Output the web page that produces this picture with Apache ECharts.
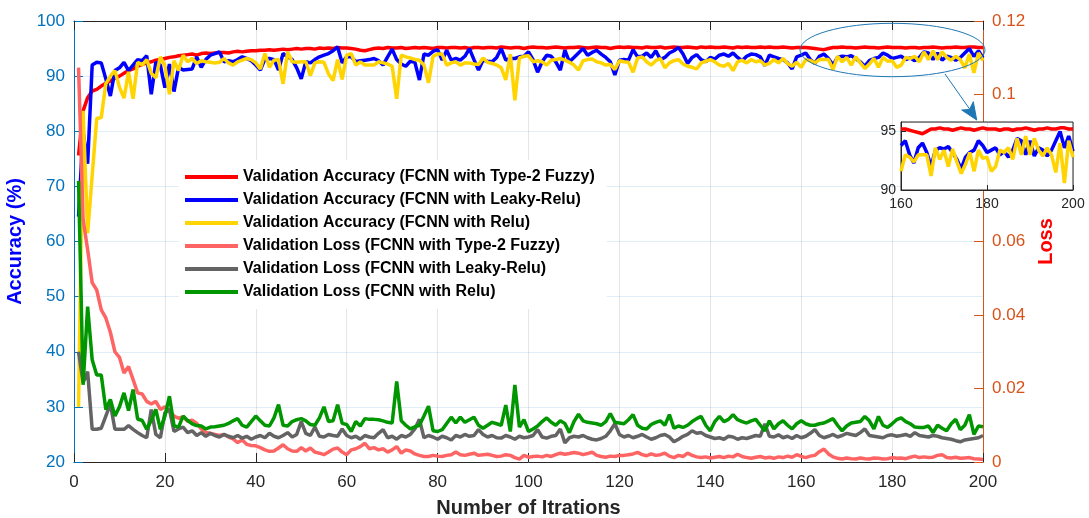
<!DOCTYPE html>
<html>
<head>
<meta charset="utf-8">
<script src="https://cdn.jsdelivr.net/npm/echarts@6/dist/echarts.min.js"></script>
<style>
  html, body { margin: 0; padding: 0; background: #fff; }
  #chart { width: 1089px; height: 518px; }
</style>
</head>
<body>
<div id="chart"></div>
<script>
// series names (legend order)
var names = [
  'Validation Accuracy (FCNN with Type-2 Fuzzy)',
  'Validation Accuracy (FCNN with Leaky-Relu)',
  'Validation Accuracy (FCNN with Relu)',
  'Validation Loss (FCNN with Type-2 Fuzzy)',
  'Validation Loss (FCNN with Leaky-Relu)',
  'Validation Loss (FCNN with Relu)'
];

// accuracy (%), iterations 1..200
var accFuzzy = [
  75.6,83.7,86.1,87.3,87.6,88.2,88.7,89.1,89.6,90.0,
  90.5,91.0,91.3,91.8,92.1,92.4,92.6,92.9,93.0,93.2,
  93.4,93.5,93.7,93.8,93.9,94.0,93.8,94.1,94.2,94.1,
  94.2,94.3,94.3,94.2,94.4,94.5,94.4,94.5,94.6,94.6,
  94.7,94.7,94.8,94.7,94.8,94.9,94.8,94.9,95.0,94.9,
  95.0,95.0,94.9,95.1,95.0,95.1,95.0,95.2,95.1,95.1,
  95.0,94.9,94.7,94.6,94.8,95.0,95.1,95.0,95.2,95.1,
  95.1,95.2,95.0,95.1,95.2,95.1,95.2,95.1,95.0,95.2,
  95.2,95.1,95.2,95.2,95.1,95.2,95.0,95.2,95.2,95.1,
  95.2,95.2,95.1,95.3,95.2,95.1,95.2,95.2,95.0,95.2,
  95.3,95.2,95.2,95.1,95.2,95.3,95.2,95.1,95.2,95.2,
  95.3,95.2,95.1,95.2,95.3,95.2,95.2,95.0,95.2,95.3,
  95.2,95.3,95.2,95.2,95.1,95.3,95.2,95.2,95.3,95.1,
  95.2,95.3,95.2,95.2,95.3,95.2,95.1,95.3,95.2,95.3,
  95.2,95.2,95.3,95.2,95.1,95.3,95.2,95.3,95.2,95.2,
  95.3,95.2,95.3,95.2,95.2,95.3,95.2,95.1,95.2,95.2,
  95.2,95.1,95.0,94.9,94.8,95.0,95.2,95.2,95.3,95.2,
  95.2,95.1,95.2,95.3,95.2,95.2,95.1,95.2,95.3,95.2,
  95.2,95.2,95.1,95.2,95.2,95.1,95.2,95.2,95.3,95.2,
  95.1,95.2,95.2,95.3,95.2,95.2,95.3,95.3,95.2,95.2
];
var accLeaky = [
  64.5,80.0,74.1,92.0,92.5,92.4,89.5,86.4,91.0,91.5,
  92.5,91.0,92.0,93.0,92.8,93.7,86.7,92.5,92.0,87.9,
  92.2,87.2,91.6,91.1,91.2,91.3,93.5,91.6,93.0,93.8,
  94.1,94.4,92.6,92.8,92.6,93.0,93.5,93.2,92.8,92.0,
  91.1,93.1,93.2,93.0,91.1,94.1,93.5,93.0,91.5,89.5,
  92.6,92.4,93.0,93.5,93.8,94.1,94.6,95.3,92.4,93.5,
  93.5,92.6,92.8,92.9,93.0,93.2,92.8,92.0,93.5,94.9,
  93.0,92.2,91.8,92.7,92.5,89.3,94.0,93.8,94.5,94.8,
  92.9,94.7,92.9,93.2,92.9,93.6,95.0,93.0,91.1,92.9,
  92.7,92.6,93.4,95.0,92.9,93.2,93.2,93.5,93.6,94.4,
  93.0,90.7,92.6,93.8,93.6,92.6,91.1,94.7,92.6,93.4,
  94.2,95.0,93.8,94.3,94.7,94.0,93.4,92.6,90.2,92.9,
  93.0,92.9,94.8,93.5,93.6,94.2,93.4,94.6,93.0,93.4,
  94.2,94.6,95.2,94.0,92.3,93.4,93.9,93.0,92.6,93.4,
  93.1,93.8,94.0,93.6,94.2,93.4,92.8,93.6,94.0,93.9,
  93.5,91.9,93.8,93.5,93.2,93.0,92.4,91.3,93.5,93.8,
  94.2,93.0,92.3,93.6,94.0,93.2,92.0,93.4,93.6,93.5,
  93.7,93.2,92.6,91.8,92.8,93.2,93.4,94.2,93.8,93.2,
  93.4,93.6,93.0,93.3,92.8,93.4,94.4,94.2,93.0,94.2,
  92.9,93.6,93.4,92.9,93.4,94.2,95.0,93.6,94.6,93.3
];
var accRelu = [
  30.0,83.7,61.5,72.0,82.3,82.5,88.6,90.0,91.0,88.0,
  86.0,90.8,85.9,92.5,92.0,93.0,90.5,89.7,93.5,91.9,
  86.7,92.8,91.0,93.8,92.6,93.2,92.3,92.8,92.6,92.5,
  92.4,92.5,93.2,92.4,92.0,92.6,92.9,93.2,93.0,92.4,
  91.3,94.1,91.6,92.9,93.0,88.6,94.4,92.6,92.5,92.6,
  92.6,90.1,92.4,92.6,92.5,90.4,89.2,93.0,89.4,93.8,
  94.1,92.0,92.6,92.0,92.0,92.0,92.6,92.4,92.2,91.8,
  85.9,93.8,93.5,93.3,93.0,92.9,92.0,88.8,93.6,94.0,
  94.0,92.0,92.4,92.6,92.0,92.4,92.4,92.2,92.1,93.3,
  92.5,92.3,92.0,91.5,89.3,94.0,85.6,93.3,93.6,93.7,
  92.6,92.8,92.6,92.0,92.9,93.0,93.2,92.9,92.5,92.0,
  91.1,92.8,93.0,93.1,92.6,92.4,92.0,92.1,91.2,92.8,
  92.6,92.5,90.7,93.3,93.5,92.6,92.0,92.8,93.2,91.5,
  92.4,92.8,93.0,92.2,91.8,91.6,91.3,92.4,92.7,93.0,
  92.6,92.0,91.8,92.3,91.0,92.6,92.9,92.4,93.0,92.6,
  92.8,92.0,92.3,93.0,92.4,93.2,92.3,91.8,92.5,91.6,
  93.0,92.8,92.4,93.0,93.0,93.0,91.2,93.6,92.6,93.4,
  92.0,93.5,92.4,91.4,92.2,93.2,91.6,93.4,92.7,92.8,
  91.6,92.0,93.4,93.2,93.6,92.6,94.4,93.0,94.6,93.0,
  94.4,93.4,92.9,93.6,93.0,91.5,94.0,90.6,94.2,92.8
];

// loss, iterations 1..200
var lossFuzzy = [
  0.1073,0.0659,0.0578,0.0488,0.0468,0.0414,0.0392,0.0353,0.0300,0.0285,
  0.0242,0.0260,0.0224,0.0188,0.0185,0.0165,0.0158,0.0165,0.0143,0.0150,
  0.0140,0.0125,0.0119,0.0123,0.0111,0.0114,0.0105,0.0090,0.0080,0.0078,
  0.0075,0.0072,0.0075,0.0068,0.0063,0.0053,0.0060,0.0048,0.0045,0.0044,
  0.0039,0.0033,0.0029,0.0030,0.0038,0.0047,0.0036,0.0030,0.0029,0.0039,
  0.0030,0.0038,0.0027,0.0024,0.0020,0.0027,0.0035,0.0038,0.0027,0.0020,
  0.0033,0.0036,0.0042,0.0051,0.0036,0.0039,0.0033,0.0036,0.0027,0.0033,
  0.0042,0.0024,0.0033,0.0030,0.0022,0.0018,0.0015,0.0015,0.0018,0.0016,
  0.0015,0.0018,0.0020,0.0027,0.0020,0.0018,0.0021,0.0024,0.0018,0.0020,
  0.0021,0.0018,0.0015,0.0016,0.0020,0.0018,0.0012,0.0008,0.0018,0.0013,
  0.0015,0.0016,0.0014,0.0018,0.0015,0.0020,0.0024,0.0021,0.0023,0.0026,
  0.0024,0.0020,0.0023,0.0027,0.0018,0.0015,0.0013,0.0016,0.0015,0.0018,
  0.0018,0.0020,0.0022,0.0026,0.0020,0.0017,0.0022,0.0018,0.0020,0.0024,
  0.0016,0.0012,0.0018,0.0015,0.0024,0.0018,0.0014,0.0012,0.0014,0.0011,
  0.0013,0.0015,0.0012,0.0016,0.0014,0.0021,0.0015,0.0012,0.0010,0.0013,
  0.0015,0.0011,0.0013,0.0010,0.0014,0.0012,0.0016,0.0013,0.0020,0.0015,
  0.0012,0.0016,0.0018,0.0028,0.0035,0.0022,0.0014,0.0010,0.0008,0.0011,
  0.0009,0.0008,0.0011,0.0009,0.0008,0.0011,0.0010,0.0008,0.0009,0.0012,
  0.0010,0.0011,0.0009,0.0013,0.0016,0.0012,0.0014,0.0012,0.0013,0.0018,
  0.0020,0.0012,0.0011,0.0013,0.0010,0.0011,0.0012,0.0009,0.0008,0.0007
];
var lossLeaky = [
  0.0300,0.0216,0.0246,0.0089,0.0089,0.0092,0.0125,0.0158,0.0089,0.0089,
  0.0089,0.0099,0.0089,0.0080,0.0072,0.0066,0.0143,0.0075,0.0066,0.0134,
  0.0143,0.0083,0.0090,0.0095,0.0080,0.0085,0.0072,0.0080,0.0070,0.0078,
  0.0072,0.0068,0.0075,0.0070,0.0066,0.0072,0.0065,0.0070,0.0062,0.0068,
  0.0072,0.0066,0.0078,0.0070,0.0066,0.0072,0.0080,0.0068,0.0075,0.0110,
  0.0078,0.0072,0.0095,0.0070,0.0068,0.0075,0.0072,0.0070,0.0090,0.0072,
  0.0066,0.0070,0.0062,0.0072,0.0068,0.0066,0.0078,0.0088,0.0066,0.0070,
  0.0062,0.0072,0.0068,0.0075,0.0090,0.0116,0.0066,0.0072,0.0068,0.0062,
  0.0070,0.0066,0.0060,0.0072,0.0068,0.0075,0.0070,0.0072,0.0088,0.0075,
  0.0068,0.0072,0.0066,0.0065,0.0072,0.0068,0.0062,0.0070,0.0066,0.0068,
  0.0072,0.0088,0.0068,0.0065,0.0070,0.0072,0.0090,0.0052,0.0066,0.0070,
  0.0068,0.0072,0.0066,0.0062,0.0060,0.0064,0.0070,0.0085,0.0104,0.0075,
  0.0068,0.0072,0.0066,0.0070,0.0075,0.0068,0.0062,0.0066,0.0072,0.0075,
  0.0068,0.0055,0.0062,0.0070,0.0075,0.0085,0.0078,0.0080,0.0072,0.0068,
  0.0064,0.0066,0.0062,0.0070,0.0068,0.0062,0.0066,0.0064,0.0068,0.0072,
  0.0070,0.0104,0.0070,0.0068,0.0074,0.0066,0.0070,0.0064,0.0072,0.0066,
  0.0070,0.0078,0.0088,0.0072,0.0066,0.0070,0.0075,0.0068,0.0072,0.0078,
  0.0075,0.0072,0.0080,0.0090,0.0072,0.0070,0.0068,0.0066,0.0072,0.0074,
  0.0070,0.0072,0.0075,0.0070,0.0080,0.0072,0.0070,0.0068,0.0072,0.0070,
  0.0066,0.0064,0.0062,0.0058,0.0055,0.0060,0.0062,0.0064,0.0066,0.0072
];
var lossRelu = [
  0.0765,0.0210,0.0423,0.0278,0.0237,0.0237,0.0143,0.0170,0.0125,0.0150,
  0.0188,0.0140,0.0197,0.0117,0.0113,0.0089,0.0113,0.0143,0.0089,0.0125,
  0.0179,0.0099,0.0095,0.0125,0.0113,0.0104,0.0099,0.0098,0.0090,0.0095,
  0.0096,0.0098,0.0100,0.0105,0.0112,0.0118,0.0100,0.0095,0.0110,0.0125,
  0.0112,0.0100,0.0098,0.0120,0.0156,0.0100,0.0098,0.0110,0.0115,0.0118,
  0.0112,0.0102,0.0100,0.0120,0.0150,0.0110,0.0112,0.0156,0.0105,0.0102,
  0.0083,0.0110,0.0098,0.0118,0.0116,0.0116,0.0115,0.0112,0.0108,0.0106,
  0.0219,0.0112,0.0100,0.0090,0.0096,0.0100,0.0125,0.0152,0.0085,0.0083,
  0.0088,0.0105,0.0122,0.0106,0.0122,0.0108,0.0115,0.0122,0.0100,0.0092,
  0.0100,0.0108,0.0104,0.0100,0.0155,0.0083,0.0210,0.0095,0.0115,0.0083,
  0.0090,0.0098,0.0110,0.0120,0.0108,0.0100,0.0112,0.0105,0.0080,0.0110,
  0.0130,0.0112,0.0108,0.0106,0.0104,0.0100,0.0110,0.0132,0.0108,0.0106,
  0.0104,0.0115,0.0129,0.0100,0.0092,0.0090,0.0102,0.0108,0.0112,0.0100,
  0.0129,0.0092,0.0098,0.0094,0.0100,0.0110,0.0118,0.0124,0.0100,0.0085,
  0.0110,0.0124,0.0110,0.0116,0.0129,0.0115,0.0110,0.0106,0.0112,0.0116,
  0.0100,0.0085,0.0112,0.0090,0.0104,0.0112,0.0100,0.0090,0.0104,0.0112,
  0.0104,0.0100,0.0100,0.0104,0.0106,0.0112,0.0118,0.0100,0.0085,0.0098,
  0.0106,0.0108,0.0110,0.0124,0.0112,0.0090,0.0124,0.0100,0.0094,0.0104,
  0.0115,0.0120,0.0110,0.0104,0.0095,0.0094,0.0094,0.0098,0.0080,0.0100,
  0.0092,0.0085,0.0104,0.0116,0.0088,0.0100,0.0129,0.0075,0.0098,0.0096
];

var colors = ['#ff0000', '#0000ff', '#ffd400', '#ff6464', '#646464', '#009600'];
var axisDark = '#262626';
var leftBlue = '#0072bd';
var rightOrange = '#d95319';
var font = 'Liberation Sans, Arial, Helvetica, sans-serif';

function pairs(arr, from) {
  var out = [];
  for (var i = from || 0; i < arr.length; i++) out.push([i + 1, arr[i]]);
  return out;
}

var chartDom = document.getElementById('chart');
var myChart = echarts.init(chartDom);
var option;

var mainSeries = [accFuzzy, accLeaky, accRelu, lossFuzzy, lossLeaky, lossRelu].map(function (arr, k) {
  return {
    name: names[k],
    type: 'line',
    xAxisIndex: 0,
    yAxisIndex: k < 3 ? 0 : 1,
    data: pairs(arr),
    showSymbol: false,
    symbol: 'none',
    lineStyle: { color: colors[k], width: 3.5 },
    itemStyle: { color: colors[k] },
    z: 2 + k
  };
});

var insetSeries = [accFuzzy, accLeaky, accRelu].map(function (arr, k) {
  return {
    type: 'line',
    xAxisIndex: 2,
    yAxisIndex: 2,
    data: pairs(arr, 159),
    showSymbol: false,
    symbol: 'none',
    lineStyle: { color: colors[k], width: 3.5 },
    z: 20 + k
  };
});

option = {
  animation: false,
  backgroundColor: '#fff',
  textStyle: { fontFamily: font },
  grid: [
    { left: 74, right: 106, top: 21, bottom: 56, outerBoundsMode: 'none' },
    { left: 901, top: 122, width: 172, height: 68, show: true, outerBoundsMode: 'none',
      backgroundColor: '#fff', borderColor: axisDark, borderWidth: 1, z: 15 }
  ],
  legend: {
    data: names,
    orient: 'vertical',
    left: 179,
    top: 160,
    padding: [9, 12, 9, 6],
    backgroundColor: '#fff',
    itemWidth: 53,
    itemHeight: 14,
    itemGap: 7,
    icon: 'path://M0,5L53,5L53,9L0,9Z',
    textStyle: { fontFamily: font, fontSize: 16, fontWeight: 'bold', color: '#000' },
    z: 10
  },
  xAxis: [
    {
      gridIndex: 0, type: 'value', min: 0, max: 200, interval: 20,
      name: 'Number of Itrations', nameLocation: 'middle', nameGap: 36,
      nameTextStyle: { fontSize: 20, fontWeight: 'bold', color: axisDark, fontFamily: font },
      axisLine: { onZero: false, lineStyle: { color: axisDark, width: 1 } },
      axisTick: { inside: true, length: 9, lineStyle: { color: axisDark } },
      axisLabel: { color: axisDark, fontSize: 17, margin: 12, fontFamily: font },
      splitLine: { show: true, lineStyle: { color: 'rgba(38,38,38,0.12)', width: 1 } }
    },
    {
      gridIndex: 0, type: 'value', min: 0, max: 200, interval: 20, position: 'top',
      axisLine: { onZero: false, lineStyle: { color: axisDark, width: 1 } },
      axisTick: { inside: true, length: 9, lineStyle: { color: axisDark } },
      axisLabel: { show: false },
      splitLine: { show: false }
    },
    {
      gridIndex: 1, type: 'value', min: 160, max: 200, interval: 20,
      axisLine: { onZero: false, lineStyle: { color: axisDark, width: 1 } },
      axisTick: { inside: true, length: 5, lineStyle: { color: axisDark } },
      axisLabel: { color: axisDark, fontSize: 14, margin: 7, fontFamily: font },
      splitLine: { show: true, lineStyle: { color: 'rgba(38,38,38,0.12)', width: 1 } },
      z: 16
    }
  ],
  yAxis: [
    {
      gridIndex: 0, type: 'value', min: 20, max: 100, interval: 10, position: 'left',
      name: 'Accuracy (%)', nameLocation: 'middle', nameGap: 43,
      nameTextStyle: { fontSize: 20, fontWeight: 'bold', color: '#0000ff', fontFamily: font },
      axisLine: { onZero: false, lineStyle: { color: leftBlue, width: 1 } },
      axisTick: { inside: true, length: 9, lineStyle: { color: leftBlue } },
      axisLabel: { color: leftBlue, fontSize: 17, margin: 9, fontFamily: font },
      splitLine: { show: true, lineStyle: { color: 'rgba(0,114,189,0.12)', width: 1 } }
    },
    {
      gridIndex: 0, type: 'value', min: 0, max: 0.12, interval: 0.02, position: 'right',
      name: 'Loss', nameLocation: 'middle', nameGap: 53,
      nameTextStyle: { fontSize: 20, fontWeight: 'bold', color: '#ff0000', fontFamily: font },
      axisLine: { show: true, onZero: false, lineStyle: { color: rightOrange, width: 1 } },
      axisTick: { show: true, inside: true, length: 9, lineStyle: { color: rightOrange } },
      axisLabel: { color: rightOrange, fontSize: 17, margin: 9, fontFamily: font },
      splitLine: { show: false }
    },
    {
      gridIndex: 1, type: 'value', min: 90, max: 95.8, interval: 5,
      axisLine: { onZero: false, lineStyle: { color: axisDark, width: 1 } },
      axisTick: { inside: true, length: 5, lineStyle: { color: axisDark } },
      axisLabel: { color: axisDark, fontSize: 14, margin: 5, fontFamily: font,
        showMaxLabel: false },
      splitLine: { show: true, lineStyle: { color: 'rgba(38,38,38,0.12)', width: 1 } },
      z: 16
    }
  ],
  graphic: [
    {
      type: 'ellipse', z: 30,
      shape: { cx: 892.5, cy: 50, rx: 92.5, ry: 26.7 },
      style: { fill: 'none', stroke: '#1f77b4', lineWidth: 1 }
    },
    {
      type: 'line', z: 30,
      shape: { x1: 945, y1: 74, x2: 971, y2: 111 },
      style: { stroke: '#1f77b4', lineWidth: 1 }
    },
    {
      type: 'polygon', z: 30,
      shape: { points: [[976.7, 120], [961.7, 110], [969.5, 109.5], [973.3, 101.7]] },
      style: { fill: '#1f77b4', stroke: '#1f77b4', lineWidth: 1 }
    }
  ],
  series: mainSeries.concat(insetSeries)
};

option && myChart.setOption(option);
</script>
</body>
</html>
